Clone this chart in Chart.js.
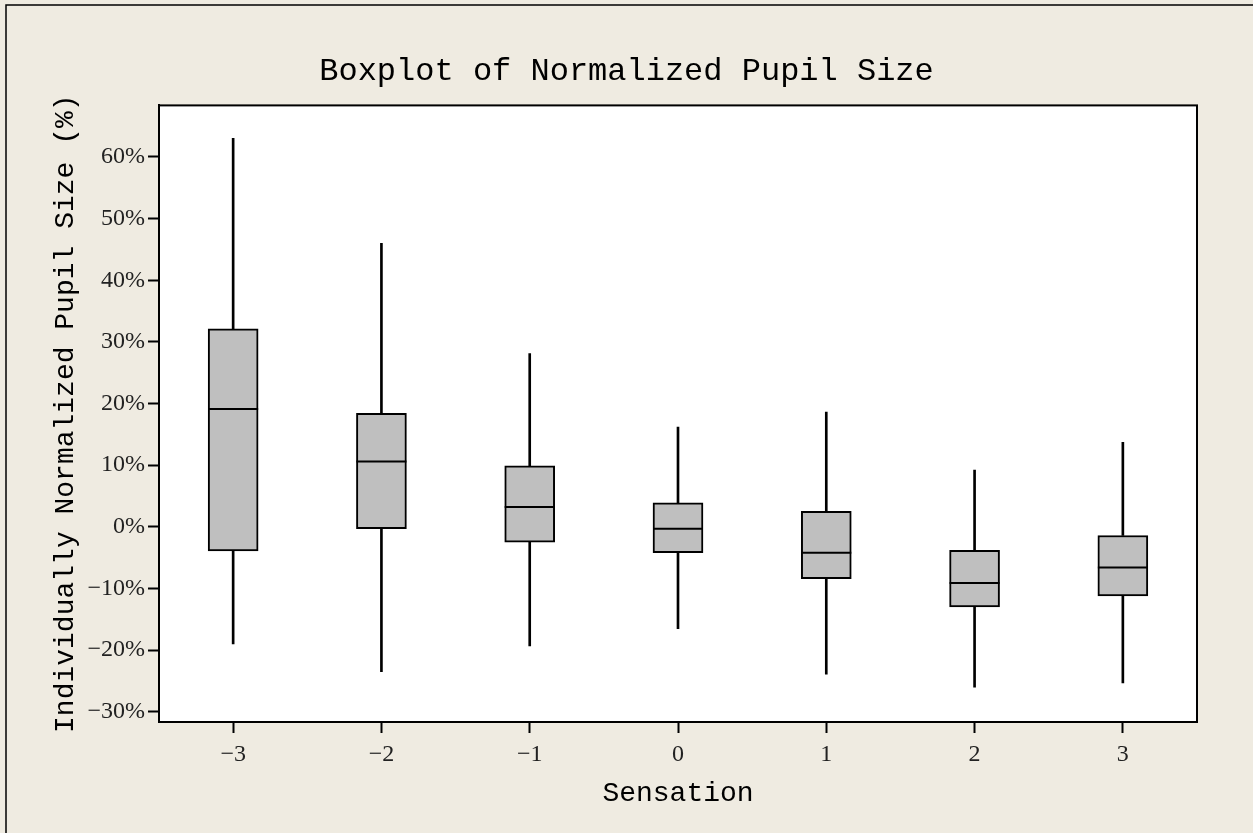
<!DOCTYPE html>
<html>
<head>
  <meta charset="utf-8" />
  <title>Boxplot of Normalized Pupil Size</title>
  <style>
html, body { margin: 0; padding: 0; background: #efebe1; }
#wrap { width: 1253px; height: 833px; }
  </style>
</head>
<body>
  <div id="wrap"><canvas id="myChart" width="1253" height="833"></canvas></div>
  <script src="https://cdn.jsdelivr.net/npm/chart.js"></script>
  <script>
// categories (Sensation) and five-number summaries, in %
const sensations = ['\u22123', '\u22122', '\u22121', '0', '1', '2', '3'];
const whiskerLow = [-19.0, -23.5, -19.3, -16.5, -23.9, -26.0, -25.3];
const q1Values   = [-3.9, -0.3, -2.5, -4.2, -8.4, -13.0, -11.2];
const medians    = [19.1, 10.6, 3.2, -0.3, -4.2, -9.1, -6.6];
const q3Values   = [32.1, 18.4, 9.9, 3.9, 2.5, -3.8, -1.4];
const whiskerHigh = [63.0, 46.0, 28.1, 16.2, 18.6, 9.2, 13.7];
const yTickValues = [-30, -20, -10, 0, 10, 20, 30, 40, 50, 60];

const BG = '#efebe1';

// background + outer frame + plot frame
const framePlugin = {
  id: 'frame',
  beforeDraw(chart) {
    const ctx = chart.ctx;
    const a = chart.chartArea;
    ctx.save();
    ctx.fillStyle = BG;
    ctx.fillRect(0, 0, chart.width, chart.height);
    ctx.strokeStyle = '#000';
    ctx.lineWidth = 1.5;
    ctx.beginPath();
    ctx.moveTo(6, chart.height);
    ctx.lineTo(6, 5);
    ctx.lineTo(chart.width, 5);
    ctx.stroke();
    ctx.fillStyle = '#fff';
    ctx.fillRect(a.left, a.top, a.right - a.left, a.bottom - a.top);
    ctx.restore();
  },
  afterDraw(chart) {
    const ctx = chart.ctx;
    const a = chart.chartArea;
    ctx.save();
    ctx.strokeStyle = '#000';
    ctx.lineWidth = 2;
    ctx.strokeRect(a.left, a.top, a.right - a.left, a.bottom - a.top);
    ctx.restore();
  }
};

const minus = v => String(v).replace('-', '\u2212');

const config = {
  data: {
    labels: sensations,
    datasets: [{
      type: 'line',
      label: 'Median',
      data: medians,
      showLine: false,
      pointStyle: 'line',
      pointRadius: 25,
      pointBorderWidth: 2,
      pointBorderColor: '#000',
      order: 0
    }, {
      type: 'bar',
      label: 'Box',
      data: q1Values.map((v, i) => [v, q3Values[i]]),
      backgroundColor: '#bfbfbf',
      borderColor: '#000',
      borderWidth: 2,
      borderSkipped: false,
      barThickness: 50,
      grouped: false,
      order: 1
    }, {
      type: 'bar',
      label: 'Lower whisker',
      data: whiskerLow.map((v, i) => [v, q1Values[i]]),
      backgroundColor: '#000',
      borderWidth: 0,
      barThickness: 2,
      grouped: false,
      order: 2
    }, {
      type: 'bar',
      label: 'Upper whisker',
      data: q3Values.map((v, i) => [v, whiskerHigh[i]]),
      backgroundColor: '#000',
      borderWidth: 0,
      barThickness: 2,
      grouped: false,
      order: 3
    }]
  },
  options: {
    responsive: false,
    animation: false,
    layout: { padding: 0 },
    plugins: {
      legend: { display: false },
      tooltip: { enabled: false },
      title: {
        display: true,
        text: 'Boxplot of Normalized Pupil Size',
        color: '#000',
        font: { family: '"Liberation Mono", "DejaVu Sans Mono", monospace', size: 32, weight: 'normal', lineHeight: 1.2 },
        padding: { top: 52, bottom: 15 }
      }
    },
    scales: {
      x: {
        type: 'category',
        offset: true,
        grid: { drawOnChartArea: false, drawTicks: true, tickLength: 11, tickColor: '#000', tickWidth: 2, offset: false },
        border: { display: true, color: '#000', width: 2 },
        ticks: {
          color: '#222',
          padding: 7,
          font: { family: '"Liberation Serif", serif', size: 24 }
        },
        title: {
          display: true,
          text: 'Sensation',
          color: '#000',
          font: { family: '"Liberation Mono", "DejaVu Sans Mono", monospace', size: 28, lineHeight: 1.2 },
          padding: { top: 0, bottom: 23 }
        },
        afterFit(scale) { scale.height = 111; }
      },
      y: {
        type: 'linear',
        min: -31.65,
        max: 68.35,
        afterBuildTicks(scale) { scale.ticks = yTickValues.map(v => ({ value: v })); },
        grid: { drawOnChartArea: false, drawTicks: true, tickLength: 11, tickColor: '#000', tickWidth: 2 },
        border: { display: true, color: '#000', width: 2 },
        ticks: {
          color: '#222',
          padding: 3,
          font: { family: '"Liberation Serif", serif', size: 24 },
          callback: v => minus(v) + '%'
        },
        title: {
          display: true,
          text: 'Individually Normalized Pupil Size (%)',
          color: '#000',
          font: { family: '"Liberation Mono", "DejaVu Sans Mono", monospace', size: 28, lineHeight: 1.2 },
          padding: { top: 49, bottom: 0 }
        },
        afterFit(scale) { scale.width = 159; }
      },
      // empty right-hand margin so the title centres on the whole canvas
      yRight: {
        type: 'linear',
        position: 'right',
        display: true,
        grid: { display: false },
        border: { display: false },
        ticks: { display: false },
        afterFit(scale) { scale.width = 56; }
      }
    }
  },
  plugins: [framePlugin]
};

const chart = new Chart(document.getElementById('myChart'), config);
  </script>
</body>
</html>
